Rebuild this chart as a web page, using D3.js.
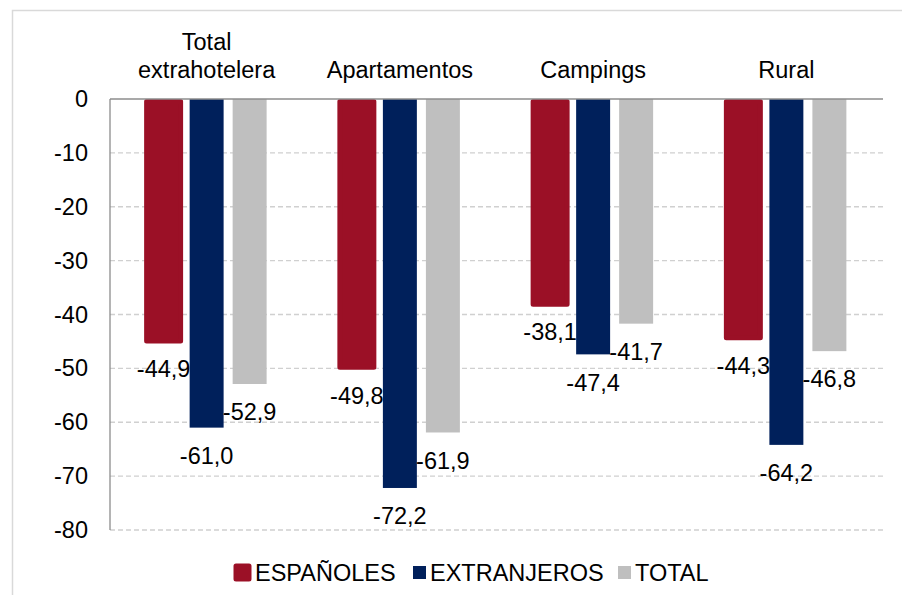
<!DOCTYPE html>
<html>
<head>
<meta charset="utf-8">
<script src="https://cdn.jsdelivr.net/npm/d3@7"></script>
<style>
  body { margin: 0; background: #fff; }
  text { font-family: "Liberation Sans", Arial, sans-serif; fill: #000; }
</style>
</head>
<body>
<div class="container"></div>
<script>
var categories = [["Total", "extrahotelera"], ["Apartamentos"], ["Campings"], ["Rural"]];
var seriesNames = ["ESPAÑOLES", "EXTRANJEROS", "TOTAL"];
var espanoles = [-44.9, -49.8, -38.1, -44.3];
var extranjeros = [-61.0, -72.2, -47.4, -64.2];
var total = [-52.9, -61.9, -41.7, -46.8];
var yTicks = [0, -10, -20, -30, -40, -50, -60, -70, -80];

const WIDTH = 902;
const HEIGHT = 595;
const LEFT = 110, RIGHT = 883, TOP = 99, BOTTOM = 530;
var colors = ["#9b1026", "#00205b", "#bfbfbf"];
var FONT = 23.5;

var svg = d3.select('.container').append('svg')
  .attr('width', WIDTH)
  .attr('height', HEIGHT);

// outer frame
svg.append('rect')
  .attr('x', 12.5).attr('y', 10.5)
  .attr('width', 900).attr('height', 600)
  .attr('fill', 'none')
  .attr('stroke', '#d9d9d9')
  .attr('stroke-width', 1.5);

var yScale = d3.scaleLinear().domain([-80, 0]).range([BOTTOM, TOP]);
var x0 = d3.scaleBand().domain(d3.range(categories.length)).range([LEFT, RIGHT]);
var x1 = d3.scaleBand().domain(seriesNames).range([-60, 60]).paddingInner(0.21).paddingOuter(0);

// gridlines
svg.append('g').selectAll('line')
  .data(yTicks.filter(function(d){ return d !== 0; }))
  .enter().append('line')
  .attr('x1', LEFT).attr('x2', RIGHT)
  .attr('y1', function(d){ return yScale(d); })
  .attr('y2', function(d){ return yScale(d); })
  .attr('stroke', '#d0d0d0')
  .attr('stroke-width', 1.3)
  .attr('stroke-dasharray', '5,3');

// y axis labels
var yAxis = d3.axisLeft(yScale).tickValues(yTicks).tickSize(0).tickPadding(22)
  .tickFormat(function(d){ return String(d); });
var yg = svg.append('g')
  .attr('transform', 'translate(' + LEFT + ',0)')
  .call(yAxis);
yg.select('.domain').remove();
yg.selectAll('text')
  .style('font-size', FONT + 'px')
  .style('font-family', '"Liberation Sans", Arial, sans-serif')
  .attr('fill', '#000');

// left axis line
svg.append('line')
  .attr('x1', LEFT).attr('x2', LEFT)
  .attr('y1', TOP).attr('y2', BOTTOM)
  .attr('stroke', '#8c8c8c').attr('stroke-width', 1.3);

var seriesValues = [espanoles, extranjeros, total];
var bars = [];
seriesValues.forEach(function(vals, s){
  vals.forEach(function(v, i){
    bars.push({ s: s, i: i, v: v });
  });
});

// red bars carry a rounded outline; shift their top so it sits on the zero line
var inset = function(d){ return d.s === 0 ? 2.5 : 0; };
var barG = svg.append('g');
barG.selectAll('rect')
  .data(bars)
  .enter().append('rect')
  .attr('x', function(d){ return x0(d.i) + x0.bandwidth() / 2 + x1(seriesNames[d.s]); })
  .attr('y', function(d){ return yScale(0) + inset(d); })
  .attr('width', x1.bandwidth())
  .attr('height', function(d){ return yScale(d.v) - yScale(0) - inset(d); })
  .attr('fill', function(d){ return colors[d.s]; })
  .attr('stroke', function(d){ return d.s === 0 ? colors[0] : 'none'; })
  .attr('stroke-width', 5)
  .attr('stroke-linejoin', 'round');

// zero axis line
svg.append('line')
  .attr('x1', LEFT).attr('x2', RIGHT)
  .attr('y1', TOP).attr('y2', TOP)
  .attr('stroke', '#8c8c8c').attr('stroke-width', 1.5);

// value labels
var fmt = function(v){ return d3.format('.1f')(v).replace('.', ',').replace('−', '-'); };
svg.append('g').selectAll('text')
  .data(bars)
  .enter().append('text')
  .attr('x', function(d){ return x0(d.i) + x0.bandwidth() / 2 + x1(seriesNames[d.s]) + x1.bandwidth() / 2; })
  .attr('y', function(d){ return yScale(d.v) + 28; })
  .attr('dy', '0.35em')
  .attr('text-anchor', 'middle')
  .style('font-size', FONT + 'px')
  .text(function(d){ return fmt(d.v); });

// category labels
var catG = svg.append('g').selectAll('text')
  .data(categories)
  .enter().append('text')
  .attr('text-anchor', 'middle')
  .attr('x', function(d, i){ return x0(i) + x0.bandwidth() / 2; })
  .attr('y', function(d){ return 78 - (d.length - 1) * 28; })
  .style('font-size', FONT + 'px');
catG.selectAll('tspan')
  .data(function(d){ return d; })
  .enter().append('tspan')
  .attr('x', function(){ return d3.select(this.parentNode).attr('x'); })
  .attr('dy', function(d, j){ return j === 0 ? 0 : 28; })
  .text(function(d){ return d; });

// legend
var legendX = [236, 413, 618];
var leg = svg.append('g').selectAll('g')
  .data(seriesNames)
  .enter().append('g')
  .attr('transform', function(d, i){ return 'translate(' + legendX[i] + ',566)'; });
leg.append('rect')
  .attr('width', 13).attr('height', 13)
  .attr('fill', function(d, i){ return colors[i]; })
  .attr('stroke', function(d, i){ return i === 0 ? colors[0] : 'none'; })
  .attr('stroke-width', 5)
  .attr('stroke-linejoin', 'round');
leg.append('text')
  .attr('x', function(d, i){ return i === 0 ? 19 : 17; })
  .attr('y', 15)
  .style('font-size', FONT + 'px')
  .text(function(d){ return d; });
</script>
</body>
</html>
